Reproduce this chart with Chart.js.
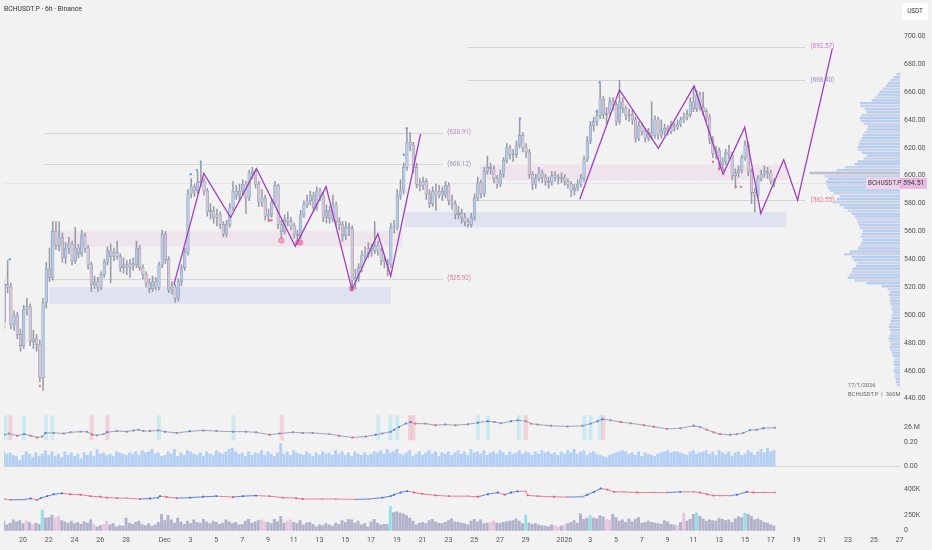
<!DOCTYPE html>
<html><head><meta charset="utf-8">
<script src="https://cdn.jsdelivr.net/npm/chart.js@4.4.1/dist/chart.umd.min.js"></script>
<style>
html,body{margin:0;padding:0;background:#f2f2f2;}
#wrap{position:relative;width:932px;height:550px;overflow:hidden;font-family:Roboto,'Noto Sans',sans-serif;}
canvas{position:absolute;left:0;}
#title{position:absolute;left:4px;top:5px;font-size:6.8px;color:#333;white-space:nowrap;}
#unit{position:absolute;left:902px;top:3px;width:26px;height:17px;background:#fff;border-radius:3px;font-size:6.3px;color:#333;line-height:17px;text-align:center;}
</style></head><body>
<div id="wrap">
<canvas id="cProf" width="932" height="410" style="top:0"></canvas>
<canvas id="cMain" width="932" height="410" style="top:0"></canvas>
<canvas id="cP1" width="932" height="72" style="top:404px"></canvas>
<canvas id="cP2" width="932" height="74" style="top:476px"></canvas>
<div id="title">BCHUSDT.P · 6h · Binance</div>
<div id="unit">USDT</div>
</div>
<script>
// ---------- DATA (time in days from 20 Nov; 6h candles) ----------
const candleStartDay = -1.5, candleStep = 0.25;
const firstOpen = 495;
const closes = [
522,520,493,500,486,478,504,506,481,483,
479,455,509,533,527,560,550,556,541,548,
551,539,548,544,557,548,536,522,524,520,
529,538,546,542,545,542,534,536,534,537,
536,548,534,529,523,519,524,520,536,558,
540,518,520,512,524,534,545,587,592,589,
595,596,589,574,575,570,572,565,558,565,
577,589,586,589,594,584,602,603,594,581,
584,571,572,581,593,565,560,569,567,564,
558,557,572,579,582,586,577,589,586,570,
575,569,579,567,565,557,563,562,525,527,
534,543,544,548,546,550,546,539,538,536,
563,563,586,589,606,624,622,606,594,593,
596,587,580,589,586,589,586,593,582,580,
572,573,570,567,565,570,584,595,587,603,
606,605,598,594,601,611,620,615,615,622,
629,620,617,601,594,598,602,599,596,595,
600,599,598,599,596,594,589,591,594,598,
612,625,636,639,643,655,644,645,653,651,
639,653,648,643,644,640,627,636,632,627,
631,629,640,629,632,634,632,636,635,637,
640,642,644,653,648,658,649,646,642,626,
616,618,608,610,617,615,600,602,604,613,
622,603,588,586,598,601,603,602,596,594.51];
const highs = [
526,539,523,503,502,490,507,512,508,489,
486,482,512,538,548,567,567,567,559,552,
556,553,563,551,561,559,550,538,528,527,
531,540,549,551,548,553,544,541,539,540,
541,553,550,536,531,526,528,527,538,561,
560,542,524,522,526,536,548,590,598,594,
603,609,598,591,580,578,576,574,567,568,
580,596,593,594,597,596,604,606,605,596,
590,586,576,583,596,594,568,572,574,570,
566,561,575,582,586,589,588,592,591,588,
579,578,586,581,570,567,567,566,564,533,
537,546,549,552,551,567,553,548,542,540,
566,568,590,597,609,634,631,624,609,598,
599,598,590,592,594,593,592,596,595,586,
582,578,576,573,569,573,587,599,597,606,
614,609,607,600,604,613,623,622,619,625,
640,631,623,619,603,601,606,604,601,599,
603,603,601,602,601,598,596,594,597,601,
614,628,639,642,647,666,657,649,656,656,
653,668.5,656,650,648,647,642,639,638,634,
634,653,643,642,640,637,636,639,638,640,
642,645,647,656,664,661,660,660,648,644,
628,621,620,613,619,622,617,605,607,615,
625,624,605,591,600,604,607,606,604,598];
const lows = [
490,516,490,489,483,474,476,500,478,476,
474,452,446,505,524,525,547,546,538,537,
544,536,537,541,542,545,533,517,519,517,
518,527,536,523,539,540,531,530,529,527,
532,534,532,526,520,516,517,518,518,534,
537,516,515,509,510,521,532,543,584,585,
587,592,586,571,569,566,564,562,556,556,
563,575,583,582,586,573,582,598,591,578,
578,568,567,570,579,562,555,558,564,561,
555,552,555,570,577,579,574,575,582,567,
566,566,567,564,561,553,554,557,518,519,
524,531,539,541,542,544,543,536,534,528,
534,559,561,583,587,604,618,602,591,589,
590,583,577,578,575,584,582,584,579,576,
569,569,566,564,563,563,568,582,584,585,
601,601,595,591,592,599,609,612,610,613,
620,617,613,598,590,591,596,595,593,591,
593,596,594,595,593,591,585,586,589,592,
596,610,623,632,636,641,641,637,643,647,
636,637,645,640,639,637,624,625,629,624,
625,626,627,626,627,629,629,630,632,633,
635,638,640,642,646,646,647,643,639,623,
613,612,604,605,608,612,597,591,599,602,
611,600,580,574,584,596,599,598,594,592];

// pane 1 histogram (value) and line (M)
const vol1 = [
12,10,11,9,8,5,9,12,10,7,11,8,10,13,9,12,8,10,7,12,
9,11,8,10,6,11,9,12,8,14,10,11,9,10,8,12,11,10,9,11,
10,12,9,13,11,12,14,10,11,8,9,12,10,14,8,11,9,13,12,10,
9,11,8,12,10,9,13,11,10,12,14,15,12,10,11,8,12,9,11,10,
13,9,12,10,8,11,19,10,12,9,13,11,10,9,12,10,8,11,9,12,
10,11,9,13,10,12,9,11,8,12,10,9,11,9,10,12,11,13,10,14,
11,12,14,10,9,11,13,8,10,12,9,11,13,10,12,8,11,10,12,9,
11,13,10,12,9,14,11,12,10,13,9,11,12,10,13,11,9,12,10,11,
13,10,12,11,9,12,10,13,11,12,10,11,9,12,10,13,11,14,10,12,
13,9,11,12,10,9,8,7,9,10,11,12,13,12,10,11,9,12,8,11,
10,9,8,10,11,12,13,11,12,12,11,10,9,12,13,10,11,12,13,10,
12,9,13,11,10,12,8,11,12,9,10,13,11,9,12,14,11,15,12,13];
const obvDays = [-1.47,-1.08,-0.44,0.08,0.59,1.10,1.49,1.75,2.39,3.17,3.68,4.46,4.97,5.35,5.74,6.25,6.51,7.28,8.05,8.57,8.96,9.34,9.86,10.50,11.02,11.92,12.95,13.98,15.0,16.29,17.32,18.09,19.13,19.90,20.93,21.70,22.47,23.76,24.53,25.56,26.59,27.36,27.88,28.52,28.78,29.17,29.68,30.06,30.45,31.22,32.0,32.76,33.54,34.52,35.29,36.06,36.58,37.09,37.86,38.38,39.02,39.41,39.92,40.95,42.24,43.40,44.04,44.56,44.94,45.58,46.36,47.13,48.16,48.93,49.96,50.99,52.02,52.53,53.05,53.57,54.08,54.85,55.37,55.88,56.39,56.91,57.43,58.32];
const obvVals = [23.7,24.1,23.4,23.9,23.4,22.8,23.1,24.3,24.3,24.1,24.5,24.7,24.7,23.8,23.5,23.9,24.5,24.9,24.7,25.1,25.3,24.9,24.9,25.1,24.7,24.3,24.8,25.1,24.9,24.7,24.7,24.5,23.7,24.1,24.5,24.3,24.3,23.9,23.4,22.8,23.1,23.7,24.1,24.7,25.3,26.2,27.3,27.8,27.3,27.3,26.8,27.0,26.8,27.1,27.6,28.1,27.8,27.4,28.1,28.4,28.1,27.3,27.0,26.6,26.4,26.6,27.3,28.1,28.7,28.4,27.8,27.4,26.8,26.3,25.6,25.8,26.6,26.2,25.3,24.5,23.9,23.7,23.9,24.3,25.2,25.3,25.8,26.0];
const hlDays = [-1.35,-0.97,0.08,1.78,2.28,5.33,6.56,10.54,16.33,20.08,27.57,28.49,29.03,30.03,30.28,35.29,36.06,38.46,39.0,43.55,44.02,44.75,45.02];
const hlKinds = ['c','p','c','c','c','p','p','c','c','p','c','c','c','p','p','c','c','c','p','c','c','c','p'];

// pane 2 volume (K) and line (K)
const vol2 = [
150,90,120,170,140,160,110,150,130,90,120,100,330,200,210,250,200,230,160,140,
120,150,110,130,100,140,120,170,90,60,80,100,150,90,110,60,80,70,200,120,
100,130,150,90,80,110,70,90,130,260,160,240,170,120,200,140,100,150,110,170,
130,120,180,140,110,150,130,100,120,170,140,110,130,90,100,150,180,120,140,160,
170,140,130,110,180,140,230,120,150,170,130,110,160,90,120,130,100,60,90,80,
110,90,70,120,100,160,130,180,170,120,150,90,110,60,140,180,120,90,100,100,
390,290,300,280,270,240,200,150,90,120,130,110,160,180,140,120,110,130,160,190,
140,130,120,110,90,150,180,140,170,110,120,130,150,120,110,130,140,150,160,190,
150,110,250,120,100,110,90,80,70,60,90,80,60,70,90,110,130,160,120,270,
180,200,240,200,190,240,220,180,160,260,210,150,170,130,190,140,180,210,120,130,
150,130,120,110,100,160,140,100,90,80,130,280,150,180,260,290,230,190,150,170,
160,150,200,180,160,170,130,190,220,210,280,260,230,170,190,160,130,120,90,70];
const vol2Cyan = [12,120,162,182,215,230];
const vol2Pink = [7,9,16,17,28,31,32,80,81,88,89,151,152,171,172,174,187,188,209,211];
const p2Days = [-1.47,-0.95,0.08,0.59,1.10,1.37,1.88,2.39,3.03,3.68,4.46,5.23,6.0,6.51,7.28,8.05,9.09,9.86,10.5,10.63,11.14,11.92,12.95,13.98,15.0,16.29,17.07,18.09,19.13,20.15,21.18,21.70,23.24,24.27,25.81,26.85,27.88,28.52,28.78,29.29,29.81,30.32,30.97,32.0,33.03,34.52,35.29,36.06,36.83,37.35,37.86,38.38,39.02,39.15,39.92,41.21,42.24,43.40,43.78,44.30,44.81,45.33,45.85,46.62,47.65,48.93,49.96,50.99,52.02,52.53,53.05,53.57,54.08,54.85,55.37,56.14,56.66,57.43,58.32];
const p2Vals = [343.5,338.5,340,346.5,338.5,348.5,360,371.5,376.5,371.5,368.5,360,356.5,351.5,348.5,348.5,343.5,346.5,351.5,360,355,348.5,351.5,356.5,360,355,360,363.5,360,351.5,348.5,343.5,343.5,343.5,341.5,343.5,351.5,360,368.5,381.5,390,381.5,373.5,365,360,360,356.5,371.5,381.5,368.5,381.5,388.5,388.5,365,360,356.5,355,356.5,368.5,385,405,398.5,385,385,381.5,381.5,381.5,385,385,381.5,371.5,363.5,363.5,363.5,368.5,385,381.5,381.5,381.5];

// zigzag (null = break)
const zigDays = [11.66,13.98,16.06,18.07,21.08,23.47,25.48,27.49,28.49,30.81,37,43.17,46.25,49.27,52.05,54.29,55.98,57.22,59.0,60.08,62.78];
const zigPrices = [521.8,601.7,570.0,605.1,549.3,592.1,518.4,558.3,528.0,630.0,null,583.1,661.6,619.6,664.4,601.0,634.8,572.8,611.4,582.4,691.3];

// markers
const blueDotDays = [-1.08,12.97,13.44,13.75,29.5,29.73,38.53,44.48,44.71];
const blueDotPrices = [540,601,604,610,615,634,641,646,667];
const pinkDotDays = [1.25,19.07,19.23,53.51,53.98,54.36,55.29,55.68];
const pinkDotPrices = [449,568,568,610,605,604,592,592];
const ringDays = [20.0,21.31,21.47,25.48];
const ringPrices = [553.5,552.1,552.1,519];

// levels and zones
const levelPrices = [692.57,668.40,630.91,608.12,582.55,525.92];
const levelStart  = [34.44,34.44,1.62,1.62,34.8,2.0];
const levelEnd    = [60.7,60.7,32.5,32.5,60.7,32.5];
const levelColors = ['#c27cc6','#a08bc8','#c27cc6','#9a8fbf','#e27a92','#e27a92'];
const zoneStart = [2.0,2.0,29.57,35.4];
const zoneEnd   = [29.4,28.5,59.2,59.3];
const zoneLo    = [549,508,563,597];
const zoneHi    = [560,520,574,608];
const zoneColor = ['rgba(232,198,222,0.3)','rgba(185,192,240,0.32)','rgba(185,192,240,0.32)','rgba(232,198,222,0.32)'];

// volume profile (2-unit price bins)
const profPrices = [];
for (let p = 455; p <= 669; p += 2) profPrices.push(p);
const profVols = [
3,4,4,5,5,6,5,6,6,5,
7,8,9,10,9,10,11,10,9,10,
11,10,9,8,8,7,8,8,9,10,
10,11,10,12,18,33,45,52,50,48,
47,44,43,46,48,56,50,42,40,38,
37,39,38,37,40,41,42,43,45,48,
52,56,60,66,63,60,66,70,72,73,
74,72,75,90,63,55,45,42,36,33,
38,42,42,41,40,38,37,35,33,32,
36,39,40,38,33,35,39,40,28,25,
22,20,17,14,12,9,6,3];

const priceTicks = [440,460,480,500,520,540,560,580,600,620,640,660,680,700];
const tickDays = [0,2,4,6,8,11,13,15,17,19,21,23,25,27,29,31,33,35,37,39,42,44,46,48,50,52,54,56,58,60,62,64,66,68];
const tickLabels = ['20','22','24','26','28','Dec','3','5','7','9','11','13','15','17','19','21','23','25','27','29','2026','3','5','7','9','11','13','15','17','19','21','23','25','27'];

// ---------- VIEW ----------
const X_MIN = -1.47, X_MAX = 68.03;
const P_MIN = 437.75, P_MAX = 720.18;
const AXIS_W = 32;
Chart.defaults.font.family = "Roboto, 'Noto Sans', sans-serif";
Chart.defaults.font.size = 7;
Chart.defaults.color = '#555';

const candleDays = closes.map((_, i) => candleStartDay + i * candleStep);
const opens = [firstOpen].concat(closes.slice(0, -1));
const wickData = candleDays.map((d, i) => ({x: d, y: [lows[i], highs[i]]}));
const bodyData = candleDays.map((d, i) => ({x: d, y: [opens[i], closes[i]]}));
const zigData = zigDays.map((d, i) => ({x: d, y: zigPrices[i]}));
const pts = (ds, ps) => ds.map((d, i) => ({x: d, y: ps[i]}));

const baseOpts = () => ({
  responsive: false, animation: false, events: [],
  layout: {padding: 0},
  plugins: {legend: {display: false}, tooltip: {enabled: false}}
});
const rightAxis = (min, max, tickFn, labelFn) => ({
  type: 'linear', position: 'right', min, max,
  grid: {display: false, drawTicks: false}, border: {display: false},
  ticks: {padding: 4, color: '#555', font: {size: 7}, callback: labelFn},
  afterBuildTicks: s => { s.ticks = tickFn(s).map(v => ({value: v})); },
  afterFit: s => { s.width = AXIS_W; }
});

const mainDecor = {
  id: 'mainDecor',
  beforeDatasetsDraw(chart) {
    const {ctx, chartArea: a, scales: {x, y}} = chart;
    ctx.save();
    for (let i = 0; i < zoneStart.length; i++) {
      const x0 = x.getPixelForValue(zoneStart[i]), x1 = x.getPixelForValue(zoneEnd[i]);
      const y0 = y.getPixelForValue(zoneHi[i]), y1 = y.getPixelForValue(zoneLo[i]);
      ctx.fillStyle = zoneColor[i];
      ctx.fillRect(x0, y0, x1 - x0, y1 - y0);
    }
    ctx.lineWidth = 0.8;
    ctx.strokeStyle = 'rgba(160,160,170,0.45)';
    for (let i = 0; i < levelPrices.length; i++) {
      const yy = Math.round(y.getPixelForValue(levelPrices[i])) + 0.5;
      ctx.beginPath();
      ctx.moveTo(x.getPixelForValue(levelStart[i]), yy);
      ctx.lineTo(x.getPixelForValue(levelEnd[i]), yy);
      ctx.stroke();
    }
    const yp = Math.round(y.getPixelForValue(closes[closes.length - 1])) + 0.5;
    ctx.setLineDash([1, 2]);
    ctx.strokeStyle = 'rgba(150,150,165,0.55)';
    ctx.beginPath(); ctx.moveTo(a.left, yp); ctx.lineTo(a.right, yp); ctx.stroke();
    ctx.restore();
  },
  afterDraw(chart) {
    const {ctx, chartArea: a, scales: {x, y}} = chart;
    ctx.save();
    ctx.font = "6.3px Roboto, sans-serif";
    ctx.textBaseline = 'middle';
    for (let i = 0; i < levelPrices.length; i++) {
      ctx.fillStyle = levelColors[i];
      ctx.fillText('(' + levelPrices[i].toFixed(2) + ')', x.getPixelForValue(levelEnd[i]) + 5, y.getPixelForValue(levelPrices[i]));
    }
    const last = closes[closes.length - 1];
    const yp = y.getPixelForValue(last);
    ctx.fillStyle = '#f0d2ec';
    ctx.fillRect(a.right - 34, yp - 5.5, 34, 11);
    ctx.fillStyle = '#e6b9e1';
    ctx.fillRect(a.right, yp - 5.5, 27, 11);
    ctx.fillStyle = '#3a3a3a';
    ctx.font = "6.3px Roboto, sans-serif";
    ctx.fillText('BCHUSDT.P', a.right - 32, yp);
    ctx.font = "7px Roboto, sans-serif";
    ctx.fillText(last.toFixed(2), a.right + 3, yp);
    ctx.fillStyle = '#666';
    ctx.font = "5.8px Roboto, sans-serif";
    ctx.fillText('17/1/2026', a.right - 52, 386);
    ctx.fillText('BCHUSDT.P  |  360M', a.right - 52, 395);
    ctx.restore();
  }
};

// profile
new Chart(document.getElementById('cProf'), {
  type: 'bar',
  data: {datasets: [{
    data: profPrices.map((p, i) => ({x: profVols[i], y: p})),
    backgroundColor: c => profVols[c.dataIndex] === Math.max(...profVols) ? 'rgba(150,150,175,0.55)' : (c.dataIndex % 3 === 0 ? 'rgba(150,165,215,0.42)' : 'rgba(112,162,236,0.45)'),
    barThickness: 1.8, grouped: false
  }]},
  options: Object.assign(baseOpts(), {
    indexAxis: 'y',
    layout: {padding: {right: AXIS_W}},
    scales: {
      x: {type: 'linear', min: 0, max: 900, reverse: true, display: false},
      y: {type: 'linear', min: P_MIN, max: P_MAX, display: false, offset: false}
    }
  })
});

// main
new Chart(document.getElementById('cMain'), {
  type: 'bar',
  data: {datasets: [
    {type: 'line', data: zigData, borderColor: '#9d3fc0', borderWidth: 1.3, pointRadius: 0, spanGaps: false, order: 0},
    {type: 'scatter', data: pts(blueDotDays, blueDotPrices), pointRadius: 1.2, backgroundColor: '#62a6ee', borderWidth: 0, order: 1},
    {type: 'scatter', data: pts(pinkDotDays, pinkDotPrices), pointRadius: 1.2, backgroundColor: '#ec6d98', borderWidth: 0, order: 1},
    {type: 'scatter', data: pts(ringDays, ringPrices), pointRadius: 2.6, backgroundColor: 'rgba(240,120,160,0.55)', borderColor: '#e6679b', borderWidth: 0.8, order: 1},
    {type: 'bar', data: bodyData, barThickness: 2.6, grouped: false, order: 2, minBarLength: 1, borderSkipped: false,
      backgroundColor: c => closes[c.dataIndex] >= opens[c.dataIndex] ? '#b3cbe8' : '#d6c4da',
      borderColor: '#8890a0', borderWidth: 0.5},
    {type: 'bar', data: wickData, barThickness: 0.9, grouped: false, order: 3, backgroundColor: '#979ba6'}
  ]},
  options: Object.assign(baseOpts(), {
    scales: {
      x: {type: 'linear', min: X_MIN, max: X_MAX, display: false, offset: false},
      y: rightAxis(P_MIN, P_MAX, () => priceTicks, v => v.toFixed(2))
    }
  }),
  plugins: [mainDecor]
});

// pane 1
const P1_MIN = -0.0164, P1_MAX = 0.4557, L1_MIN = 13, L1_MAX = 31, L1_LAST = 26;
const trend = (vals, th, up, dn, flat) => c => {
  const i = c.dataIndex; if (i === 0) return flat;
  const d = vals[i] - vals[i - 1];
  return d > th ? up : (d < -th ? dn : flat);
};
const p1LineTick = P1_MIN + (L1_LAST - L1_MIN) / (L1_MAX - L1_MIN) * (P1_MAX - P1_MIN);
new Chart(document.getElementById('cP1'), {
  type: 'bar',
  data: {datasets: [
    {type: 'line', data: pts(obvDays, obvVals), yAxisID: 'yl', borderColor: 'rgba(125,130,170,0.7)', borderWidth: 1,
      pointStyle: 'rect', pointRadius: 1.4, pointBorderWidth: 0,
      pointBackgroundColor: trend(obvVals, 0.45, '#4f80e0', '#e8637e', '#8a8fb0'), order: 0},
    {data: candleDays.map((d, i) => ({x: d, y: vol1[i] / 100})), yAxisID: 'yb', backgroundColor: 'rgba(128,178,245,0.55)', barThickness: 2.3, grouped: false, order: 2},
    {data: hlDays.map(d => ({x: d, y: [0.2197, 0.4275]})), yAxisID: 'yb', barThickness: 3.4, grouped: false, order: 3,
      backgroundColor: c => hlKinds[c.dataIndex] === 'c' ? 'rgba(120,215,235,0.3)' : 'rgba(240,130,160,0.3)'}
  ]},
  options: Object.assign(baseOpts(), {
    scales: {
      x: {type: 'linear', min: X_MIN, max: X_MAX, display: false, offset: false},
      yb: rightAxis(P1_MIN, P1_MAX, () => [0, 0.2, p1LineTick], v => v === p1LineTick ? '26.M' : v.toFixed(2)),
      yl: {type: 'linear', min: L1_MIN, max: L1_MAX, display: false}
    }
  }),
  plugins: [{
    id: 'p1base',
    beforeDatasetsDraw(chart) {
      const {ctx, chartArea: a, scales: {yb}} = chart;
      const yy = Math.round(yb.getPixelForValue(0)) + 0.5;
      ctx.save(); ctx.strokeStyle = '#d6d6d9'; ctx.lineWidth = 1;
      ctx.beginPath(); ctx.moveTo(a.left, yy); ctx.lineTo(a.right, yy); ctx.stroke(); ctx.restore();
    }
  }]
});

// pane 2
const V_MIN = -41.7, V_MAX = 750, L2_MIN = 145, L2_MAX = 430, L2_TICK = 400;
const p2LineTick = V_MIN + (L2_TICK - L2_MIN) / (L2_MAX - L2_MIN) * (V_MAX - V_MIN);
new Chart(document.getElementById('cP2'), {
  type: 'bar',
  data: {datasets: [
    {type: 'line', data: pts(p2Days, p2Vals), yAxisID: 'yl2', borderWidth: 1,
      segment: {borderColor: s => s.p1.parsed.y > s.p0.parsed.y + 1 ? 'rgba(70,115,225,0.85)' : 'rgba(232,100,122,0.8)'},
      pointStyle: 'rect', pointRadius: 1.3, pointBorderWidth: 0,
      pointBackgroundColor: trend(p2Vals, 2, '#3f6fdc', '#e85c78', '#c9a0b8'), order: 0},
    {data: candleDays.map((d, i) => ({x: d, y: vol2[i]})), yAxisID: 'yv', barThickness: 2.3, grouped: false, order: 2,
      backgroundColor: c => vol2Cyan.includes(c.dataIndex) ? 'rgba(110,215,225,0.7)' : (vol2Pink.includes(c.dataIndex) ? 'rgba(225,172,212,0.65)' : 'rgba(135,135,178,0.6)')}
  ]},
  options: Object.assign(baseOpts(), {
    scales: {
      x: {type: 'linear', min: X_MIN, max: X_MAX, offset: false, position: 'bottom',
        grid: {display: false, drawTicks: false}, border: {display: false},
        ticks: {autoSkip: false, maxRotation: 0, padding: 3, color: '#555', font: {size: 7},
          callback: v => { const k = tickDays.indexOf(v); return k >= 0 ? tickLabels[k] : ''; }},
        afterBuildTicks: s => { s.ticks = tickDays.map(v => ({value: v})); },
        afterFit: s => { s.height = 17; }},
      yv: rightAxis(V_MIN, V_MAX, () => [0, 250, p2LineTick], v => v === p2LineTick ? '400K' : (v === 0 ? '0' : v + 'K')),
      yl2: {type: 'linear', min: L2_MIN, max: L2_MAX, display: false}
    }
  })
});
</script>
</body></html>
